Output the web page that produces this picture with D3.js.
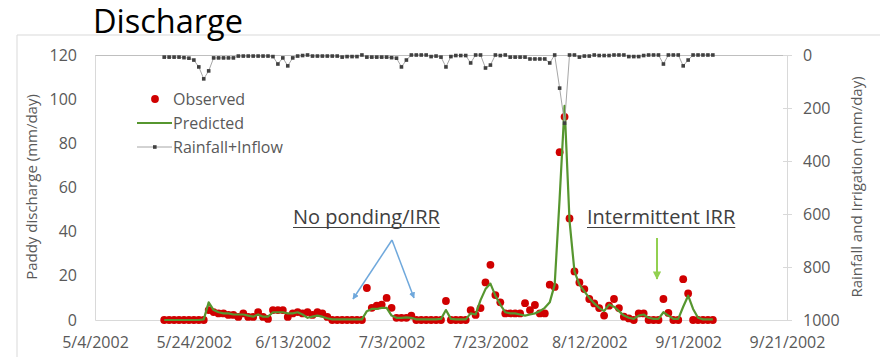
<!DOCTYPE html>
<html><head><meta charset="utf-8">
<script src="https://cdn.jsdelivr.net/npm/d3@7"></script>
<style>
body{margin:0;background:#fff}
svg{display:block}
text{font-family:"Open Sans",sans-serif}
</style>
</head><body>
<svg id="c" width="880" height="357"></svg>
<script>
// ---------- DATA ----------
const firstDay = "2002-05-18";
const lastDay = "2002-09-06";
const observed = [
  0,0,0,0,0,0,0,0,0,          // 5/18-5/26
  4.5,3.6,3,3,2.3,2.3,1.4,3,1.4,1.4,3.6,1.4,0.5,4.5,4.5,4.5,1.4,3,3.6,3,3.6,2.3,3.6,3,1.4,
  0,0,0,0,0,0,0,
  14.5,5.5,6.5,7,10,5.5,1,1,1,2,
  0,0,0,0,0,0,
  8.6,0,0,0,0,
  4.5,2.3,5.4,17,25,11.3,8,3,3,3,3,7.6,4.5,6.8,3,3,16,15,
  76,92,46,22,17,14,9.5,7.5,5.4,2,6.5,9.5,5.4,1.5,0.7,0,3,3,0,0,0,9.5,3.2,0,0,18.5,12,
  0,0,0,0,0
];
const predicted = [
  0,0,0,0,0,0,0,0,0.3,
  8,4.5,3.5,3,3,2.5,2.5,2.5,2,1.5,2.5,1.5,1.5,3.5,3.5,3.5,3,3,3.5,2.5,1,1.5,2,1.5,0.8,
  0.3,0.3,0.3,0.3,0.3,0.3,0.3,
  4,5,5,5.5,5.5,2,1,1,1.2,1,
  0.3,0.3,0.3,0.3,0.3,0.5,
  4.5,0.5,0.3,0.3,0.3,
  3,2.5,9,14,16.5,11,7,3.5,3,3,2.5,2,2.5,3,4,5.5,8,16,
  55,97,45,22,16,13,10,7.5,5.5,4,7,6,4,2,1,0.5,2,2.5,1,0.5,0.5,3.5,2,0.5,0.5,6,11,
  5,1,0.3,0.3,0.3
];
const rainfall = [
  8,8,8,8,10,12,19,45,90,60,11,11,11,11,11,4,4,4,4,4,4,4,6,34,11,41,11,4,2,0,
  4,4,4,4,4,4,8,6,6,6,0,8,8,8,8,8,10,12,45,19,0,0,0,0,6,4,8,45,6,2,2,2,
  30,0,0,49,38,0,2,0,8,8,8,8,15,15,15,15,30,0,125,257,0,0,8,4,4,0,2,2,2,0,0,0,6,6,6,2,0,0,0,34,0,0,0,41,19,
  0,0,0,0,0
];
const xTickLabels = ["5/4/2002","5/24/2002","6/13/2002","7/3/2002","7/23/2002","8/12/2002","9/1/2002","9/21/2002"];
const leftTicks = [0,20,40,60,80,100,120];
const rightTicks = [0,200,400,600,800,1000];
const seriesNames = ["Observed","Predicted","Rainfall+Inflow"];

// ---------- SETUP ----------
const svg = d3.select("#c");
const parseISO = d3.timeParse("%Y-%m-%d");
const parseUS = d3.timeParse("%-m/%-d/%Y");
const dates = d3.timeDay.range(parseISO(firstDay), d3.timeDay.offset(parseISO(lastDay), 1));
const tickDates = xTickLabels.map(parseUS);

const L = 95, R = 787, T = 55, B = 320;
const x = d3.scaleTime().domain([tickDates[0], tickDates[tickDates.length-1]]).range([L, R]);
const yL = d3.scaleLinear().domain([0,120]).range([B, T]);
const yR = d3.scaleLinear().domain([0,1000]).range([T, B]);

const textCol = "#595959", axisCol = "#d9d9d9";

// chart area border
svg.append("path").attr("d", `M17,357 V35 H880`).attr("fill","none").attr("stroke","#d9d9d9").attr("stroke-width",1);

// title
svg.append("text").attr("x",93).attr("y",33).attr("font-size",32.5).attr("fill","#000").text("Discharge");

// top line (secondary zero)
svg.append("line").attr("x1",L).attr("x2",R).attr("y1",T+0.5).attr("y2",T+0.5).attr("stroke","#bfbfbf");

// axes
const gx = svg.append("g").attr("transform",`translate(0,${B})`)
  .call(d3.axisBottom(x).tickValues(tickDates).tickFormat(d3.timeFormat("%-m/%-d/%Y")).tickSize(0).tickPadding(17));
const gl = svg.append("g").attr("transform",`translate(${L},0)`)
  .call(d3.axisLeft(yL).tickValues(leftTicks).tickSize(0).tickPadding(18));
const gr = svg.append("g").attr("transform",`translate(${R},0)`)
  .call(d3.axisRight(yR).tickValues(rightTicks).tickSize(5).tickPadding(11).tickFormat(d3.format("d")));
gr.selectAll(".tick line").attr("x1",-4);
[gx,gl,gr].forEach(g=>{
  g.select(".domain").attr("stroke",axisCol);
  g.selectAll(".tick line").attr("stroke",axisCol);
  g.selectAll("text").attr("font-size",16).attr("fill",textCol).attr("font-family","'Open Sans',sans-serif");
});

// axis titles
svg.append("text").attr("transform",`translate(37,187) rotate(-90)`).attr("text-anchor","middle")
  .attr("font-size",15).attr("fill",textCol).text("Paddy discharge (mm/day)");
svg.append("text").attr("transform",`translate(862,187) rotate(-90)`).attr("text-anchor","middle")
  .attr("font-size",15).attr("fill",textCol).text("Rainfall and Irrigation (mm/day)");

// ---------- SERIES ----------
const obsCol = "#d00000", predCol = "#56962f", rainLine = "#a6a6a6", rainMark = "#404040";

svg.append("g").selectAll("circle").data(observed).join("circle")
  .attr("cx",(d,i)=>x(dates[i])).attr("cy",d=>yL(d)).attr("r",3.9).attr("fill",obsCol);

svg.append("path").datum(predicted)
  .attr("d", d3.line().x((d,i)=>x(dates[i])).y(d=>yL(d)))
  .attr("fill","none").attr("stroke",predCol).attr("stroke-width",2.2).attr("stroke-linejoin","round");

svg.append("path").datum(rainfall)
  .attr("d", d3.line().x((d,i)=>x(dates[i])).y(d=>yR(d)))
  .attr("fill","none").attr("stroke",rainLine).attr("stroke-width",1);
svg.append("g").selectAll("rect").data(rainfall).join("rect")
  .attr("x",(d,i)=>x(dates[i])-1.8).attr("y",d=>yR(d)-1.8).attr("width",3.6).attr("height",3.6).attr("fill",rainMark);

// ---------- LEGEND ----------
const lg = svg.append("g");
const rows = [99,123,147];
lg.append("circle").attr("cx",155).attr("cy",rows[0]).attr("r",3.9).attr("fill",obsCol);
lg.append("line").attr("x1",137).attr("x2",172).attr("y1",rows[1]).attr("y2",rows[1]).attr("stroke",predCol).attr("stroke-width",2.2);
lg.append("line").attr("x1",137).attr("x2",172).attr("y1",rows[2]).attr("y2",rows[2]).attr("stroke",rainLine).attr("stroke-width",1);
lg.append("rect").attr("x",153).attr("y",rows[2]-1.8).attr("width",3.6).attr("height",3.6).attr("fill",rainMark);
seriesNames.forEach((n,i)=>{
  lg.append("text").attr("x",173).attr("y",rows[i]).attr("dy","0.35em").attr("font-size",16).attr("fill",textCol).text(n);
});

// ---------- ANNOTATIONS ----------
function ann(txt, x0, yb){
  const t = svg.append("text").attr("x",x0).attr("y",yb).attr("font-size",20).attr("fill","#404040").text(txt);
  const w = t.node().getComputedTextLength();
  svg.append("line").attr("x1",x0).attr("x2",x0+w).attr("y1",yb+3.5).attr("y2",yb+3.5).attr("stroke","#404040").attr("stroke-width",1.2);
}
ann("No ponding/IRR", 293, 224);
ann("Intermittent IRR", 587, 224);

const defs = svg.append("defs");
function marker(id,col){
  defs.append("marker").attr("id",id).attr("viewBox","0 0 10 10").attr("refX",9).attr("refY",5)
    .attr("markerWidth",4.2).attr("markerHeight",4.2).attr("orient","auto")
    .append("path").attr("d","M0,0 L10,5 L0,10 z").attr("fill",col);
}
marker("ab","#6fa8dc"); marker("ag","#92d050");
svg.append("line").attr("x1",392).attr("y1",240).attr("x2",353).attr("y2",299).attr("stroke","#6fa8dc").attr("stroke-width",1.5).attr("marker-end","url(#ab)");
svg.append("line").attr("x1",392).attr("y1",240).attr("x2",414).attr("y2",298).attr("stroke","#6fa8dc").attr("stroke-width",1.5).attr("marker-end","url(#ab)");
svg.append("line").attr("x1",657).attr("y1",238).attr("x2",657).attr("y2",279).attr("stroke","#92d050").attr("stroke-width",2).attr("marker-end","url(#ag)");
</script>
</body></html>
